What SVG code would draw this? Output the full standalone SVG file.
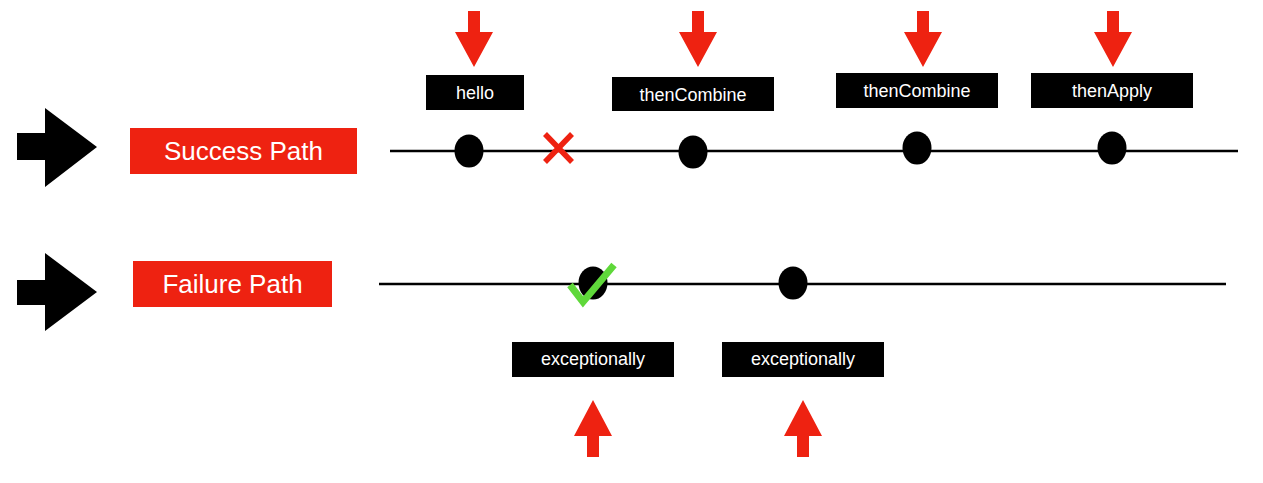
<svg xmlns="http://www.w3.org/2000/svg" width="1263" height="483" viewBox="0 0 1263 483">
<style>
.lbl{fill:#000}
.lt{fill:#fff;font-family:"Liberation Sans",Arial,sans-serif;font-size:18px;text-anchor:middle}
.path{fill:#ee2211}
.pt{fill:#fff;font-family:"Liberation Sans",Arial,sans-serif;font-size:26px;text-anchor:middle}
.red{fill:#ee2211}
.dot{fill:#000}
.line{stroke:#000;stroke-width:2.5;fill:none}
</style>
<defs>
<polygon id="down" points="-6,0 6,0 6,21 19,21 0,56 -19,21 -6,21"/>
<polygon id="up" points="-6,57 6,57 6,36 19,36 0,0 -19,36 -6,36"/>
<polygon id="big" points="17,0 45,0 45,-40 97,0 45,40 45,0" />
</defs>
<rect width="1263" height="483" fill="#fff"/>
<g id="connectors">
<line class="line" x1="390" y1="151" x2="1238" y2="151"/>
<line class="line" x1="379" y1="284" x2="1226" y2="284"/>
</g>
<g id="arrow-success">
<polygon points="17,133 45,133 45,108 97,147 45,187 45,160 17,160" fill="#000"/>
</g>
<g id="arrow-failure">
<polygon points="17,280 45,280 45,253 97,292 45,331 45,305 17,305" fill="#000"/>
</g>
<g id="success-path">
<rect class="path" x="130" y="128" width="227" height="46"/>
<text class="pt" x="243.5" y="160">Success Path</text>
</g>
<g id="failure-path">
<rect class="path" x="133" y="261" width="199" height="46"/>
<text class="pt" x="232.5" y="293">Failure Path</text>
</g>
<g id="hello">
<use href="#down" x="474" y="11" class="red"/>
<rect class="lbl" x="426" y="75" width="98" height="35"/>
<text class="lt" x="475" y="99">hello</text>
<ellipse class="dot" cx="469" cy="151" rx="14.5" ry="16.5"/>
</g>
<g id="cross">
<path d="M545,134 L572,162 M572,134 L545,162" stroke="#ee2211" stroke-width="5.5" fill="none"/>
</g>
<g id="thenCombine1">
<use href="#down" x="698" y="11" class="red"/>
<rect class="lbl" x="612" y="77" width="162" height="34"/>
<text class="lt" x="693" y="101">thenCombine</text>
<ellipse class="dot" cx="693" cy="152" rx="14.5" ry="16.5"/>
</g>
<g id="thenCombine2">
<use href="#down" x="923" y="11" class="red"/>
<rect class="lbl" x="836" y="73" width="162" height="35"/>
<text class="lt" x="917" y="97">thenCombine</text>
<ellipse class="dot" cx="917" cy="148" rx="14.5" ry="16.5"/>
</g>
<g id="thenApply">
<use href="#down" x="1113" y="11" class="red"/>
<rect class="lbl" x="1031" y="73" width="162" height="35"/>
<text class="lt" x="1112" y="97">thenApply</text>
<ellipse class="dot" cx="1112" cy="148" rx="14.5" ry="16.5"/>
</g>
<g id="exceptionally1">
<ellipse class="dot" cx="593" cy="283" rx="14.5" ry="16.5"/>
<path d="M570,285 L583,302 L614,265" stroke="#5fd83a" stroke-width="7" fill="none"/>
<rect class="lbl" x="512" y="342" width="162" height="35"/>
<text class="lt" x="593" y="365">exceptionally</text>
<use href="#up" x="593" y="400" class="red"/>
</g>
<g id="exceptionally2">
<ellipse class="dot" cx="793" cy="283" rx="14.5" ry="16.5"/>
<rect class="lbl" x="722" y="342" width="162" height="35"/>
<text class="lt" x="803" y="365">exceptionally</text>
<use href="#up" x="803" y="400" class="red"/>
</g>
</svg>
